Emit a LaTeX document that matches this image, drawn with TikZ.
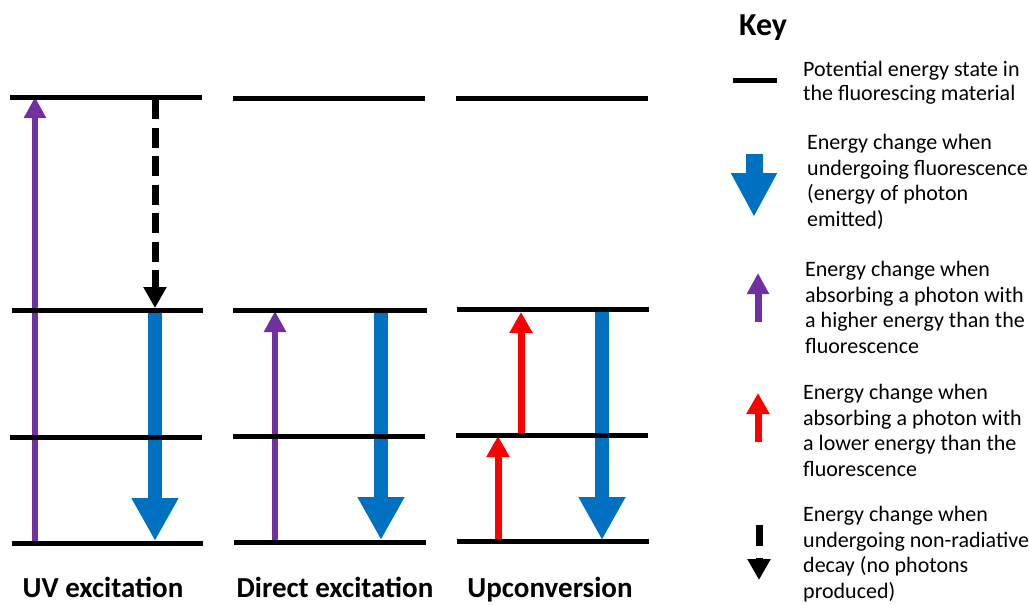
\documentclass[tikz,border=0pt]{standalone}
\usepackage{fontspec}
\setmainfont{Carlito}
\usetikzlibrary{arrows.meta}

\definecolor{uvpurple}{HTML}{7030A0}
\definecolor{flblue}{HTML}{0070C0}
\definecolor{lowred}{HTML}{FF0000}

\tikzset{
  level/.style={line width=5pt, black},
  uvarrow/.style={line width=6pt, uvpurple, -{Triangle[width=21pt,length=21pt]}},
  redarrow/.style={line width=7pt, lowred, -{Triangle[width=22pt,length=21pt]}},
  fluor/.style={line width=14pt, flblue, -{Triangle[width=44pt,length=43pt]}},
  nonrad/.style={line width=7pt, black, dash pattern=on 20pt off 8.5pt, -{Triangle[width=22pt,length=21pt]}},
  title/.style={font=\fontsize{29}{33}\selectfont\bfseries, anchor=base, inner sep=0pt},
  % multi-line key texts are anchored at the baseline of their last line
  keytext/.style={font=\fontsize{22}{25.5}\selectfont, anchor=base west, align=left, inner sep=0pt},
}

\begin{document}
\begin{tikzpicture}[x=1pt, y=-1pt]
\useasboundingbox (0,0) rectangle (1029,605);

% ---------- UV excitation ----------
\coordinate (u0a) at (10,97);  \coordinate (u0b) at (202,97);
\coordinate (u1a) at (12,310); \coordinate (u1b) at (203,310);
\coordinate (u2a) at (10,437); \coordinate (u2b) at (202,437);
\coordinate (u3a) at (12,543); \coordinate (u3b) at (203,543);
\coordinate (uvS) at (35,543);  \coordinate (uvE) at (35,97);
\coordinate (nrS) at (155,99);  \coordinate (nrE) at (155,308);
\coordinate (ufS) at (155,311); \coordinate (ufE) at (155,541);
\draw[uvarrow] (uvS) -- (uvE);
\draw[nonrad] (nrS) -- (nrE);
\draw[fluor] (ufS) -- (ufE);
\foreach \l in {u0,u1,u2,u3} \draw[level] (\l a) -- (\l b);

% ---------- Direct excitation ----------
\coordinate (d0a) at (233,98);  \coordinate (d0b) at (425,98);
\coordinate (d1a) at (233,310); \coordinate (d1b) at (427,310);
\coordinate (d2a) at (233,436); \coordinate (d2b) at (425,436);
\coordinate (d3a) at (234,542); \coordinate (d3b) at (426,542);
\coordinate (dpS) at (275,542); \coordinate (dpE) at (275,311);
\coordinate (dfS) at (381,311); \coordinate (dfE) at (381,540);
\draw[uvarrow] (dpS) -- (dpE);
\draw[fluor] (dfS) -- (dfE);
\foreach \l in {d0,d1,d2,d3} \draw[level] (\l a) -- (\l b);

% ---------- Upconversion ----------
\coordinate (c0a) at (456,98);  \coordinate (c0b) at (648,98);
\coordinate (c1a) at (457,309); \coordinate (c1b) at (649,309);
\coordinate (c2a) at (456,435); \coordinate (c2b) at (648,435);
\coordinate (c3a) at (457,541); \coordinate (c3b) at (649,541);
\coordinate (r1S) at (498,541); \coordinate (r1E) at (498,436);
\coordinate (r2S) at (521,435); \coordinate (r2E) at (521,312);
\coordinate (cfS) at (602,310); \coordinate (cfE) at (602,540);
\draw[redarrow] (r1S) -- (r1E);
\draw[redarrow] (r2S) -- (r2E);
\draw[fluor] (cfS) -- (cfE);
\foreach \l in {c0,c1,c2,c3} \draw[level] (\l a) -- (\l b);

% ---------- Titles ----------
\node[title] (tuv) at (103,597) {UV excitation};
\node[title] (tdir) at (335,597) {Direct excitation};
\node[title] (tup) at (550,597) {Upconversion};

% ---------- Key ----------
\node[font=\fontsize{32}{36}\selectfont\bfseries, anchor=base west, inner sep=0pt] (key) at (739,35) {Key};

\coordinate (kLa) at (733,80); \coordinate (kLb) at (777,80);
\draw[level] (kLa) -- (kLb);
\node[keytext, font=\fontsize{22}{24}\selectfont] (k1) at (803,100) {Potential energy state in\\the fluorescing material};

\coordinate (kbS) at (754,154); \coordinate (kbE) at (754,217);
\draw[line width=17pt, flblue, -{Triangle[width=43pt,length=44pt]}] (kbS) -- (kbE);
\node[keytext] (k2) at (807,226) {Energy change when\\undergoing fluorescence\\(energy of photon\\emitted)};

\coordinate (kpS) at (758,322); \coordinate (kpE) at (758,273);
\draw[uvarrow, line width=7pt] (kpS) -- (kpE);
\node[keytext] (k3) at (805,353) {Energy change when\\absorbing a photon with\\a higher energy than the\\fluorescence};

\coordinate (krS) at (758,442); \coordinate (krE) at (758,393);
\draw[redarrow] (krS) -- (krE);
\node[keytext] (k4) at (803,476) {Energy change when\\absorbing a photon with\\a lower energy than the\\fluorescence};

\coordinate (knS) at (759,525); \coordinate (knE) at (759,580);
\draw[nonrad, dash pattern=on 21pt off 12pt] (knS) -- (knE);
\node[keytext] (k5) at (803,598) {Energy change when\\undergoing non-radiative\\decay (no photons\\produced)};
\end{tikzpicture}
\end{document}
